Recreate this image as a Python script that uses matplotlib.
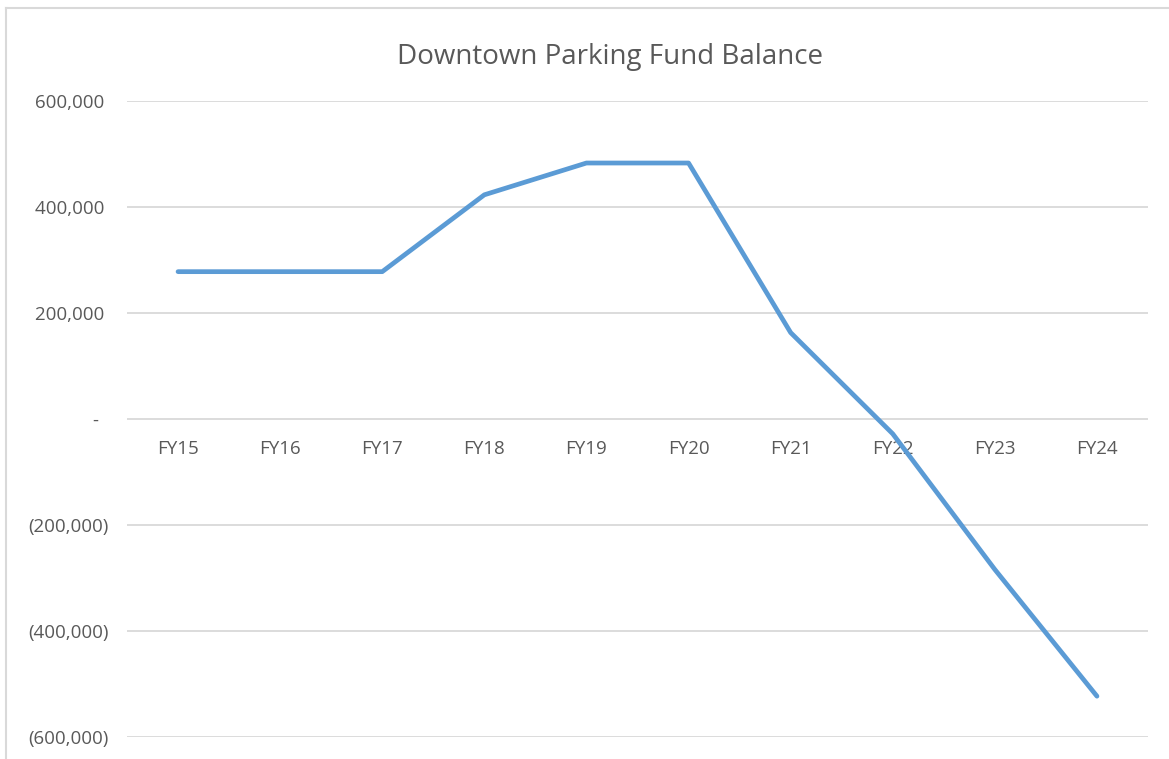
import matplotlib.pyplot as plt
from matplotlib.lines import Line2D

years = ["FY15", "FY16", "FY17", "FY18", "FY19", "FY20", "FY21", "FY22", "FY23", "FY24"]
balance = [278000, 278000, 278000, 423000, 483000, 483000, 163000, -28000, -284000, -523000]

y_ticks = [-600000, -400000, -200000, 0, 200000, 400000, 600000]
y_labels = ["(600,000)", "(400,000)", "(200,000)", "-  ", "200,000 ", "400,000 ", "600,000 "]

text_color = "#595959"
grid_color = "#D9D9D9"
line_color = "#5B9BD5"

plt.rcParams['font.family'] = ['Open Sans', 'DejaVu Sans']

fig = plt.figure(figsize=(11.69, 7.59), dpi=100)
ax = fig.add_axes([127 / 1169, 22 / 759, 1021 / 1169, 636 / 759])

x = list(range(len(years)))
ax.plot(x, balance, color=line_color, linewidth=3.4, solid_capstyle='round', zorder=3)

ax.set_xlim(-0.5, len(years) - 0.5)
ax.set_ylim(-600000, 600000)
ax.set_yticks(y_ticks)
ax.set_yticklabels(y_labels)
ax.yaxis.grid(True, color=grid_color, linewidth=1.3)
ax.set_axisbelow(True)

ax.set_xticks(x)
ax.set_xticklabels(years)
ax.spines['bottom'].set_position(('data', 0))
for s in ax.spines.values():
    s.set_visible(False)
ax.tick_params(axis='x', length=0, pad=15, labelsize=13.5, labelcolor=text_color)
ax.tick_params(axis='y', length=0, pad=13, labelsize=13.5, labelcolor=text_color)

fig.text(610 / 1169, 1 - 57 / 759, "Downtown Parking Fund Balance",
         ha='center', va='center', fontsize=20, color=text_color)

# chart frame (only top and left edges are in view)
fig.add_artist(Line2D([6 / 1169, 1.0], [1 - 8 / 759, 1 - 8 / 759],
                      transform=fig.transFigure, color=grid_color, linewidth=1.5))
fig.add_artist(Line2D([6 / 1169, 6 / 1169], [0, 1 - 8 / 759],
                      transform=fig.transFigure, color=grid_color, linewidth=1.5))

fig.savefig("out.png", dpi=100)
